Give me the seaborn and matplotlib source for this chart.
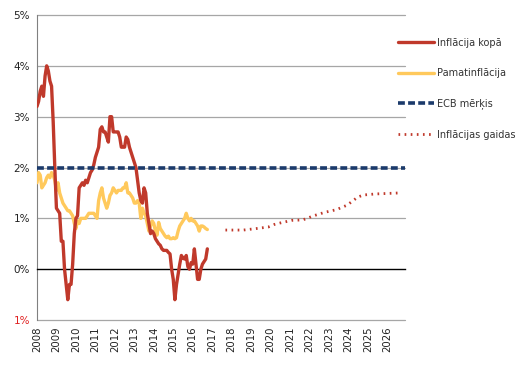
import numpy as np
import pandas as pd
import matplotlib
matplotlib.use("Agg")
import matplotlib.pyplot as plt
import matplotlib.ticker as mticker
import seaborn as sns

# monthly data, Jan 2008 .. Oct 2016 (%)
start_year = 2008
headline = [
    3.2, 3.3, 3.5, 3.6, 3.4, 3.8, 4.0, 3.9, 3.7, 3.6, 2.9, 2.0,
    1.2, 1.15, 1.1, 0.55, 0.55, 0.0, -0.3, -0.6, -0.3, -0.3, 0.1, 0.7,
    1.0, 1.05, 1.6, 1.65, 1.7, 1.65, 1.75, 1.7, 1.8, 1.9, 1.95, 2.05,
    2.2, 2.3, 2.4, 2.75, 2.8, 2.7, 2.7, 2.6, 2.5, 3.0, 3.0, 2.7,
    2.7, 2.7, 2.7, 2.6, 2.4, 2.4, 2.4, 2.6, 2.55, 2.4, 2.3, 2.2,
    2.1, 2.0, 1.75, 1.5, 1.35, 1.3, 1.6, 1.5, 1.1, 0.9, 0.7, 0.75,
    0.7, 0.6, 0.55, 0.5, 0.47, 0.4, 0.37, 0.37, 0.37, 0.33, 0.3, 0.0,
    -0.2, -0.6, -0.3, -0.1, 0.1, 0.27, 0.22, 0.2, 0.27, 0.05, 0.0, 0.13,
    0.1, 0.4, 0.1, -0.2, -0.2, 0.0, 0.1, 0.15, 0.2, 0.4,
]
core = [
    1.7, 1.9, 1.85, 1.6, 1.65, 1.7, 1.8, 1.85, 1.8, 1.9, 1.85, 1.75,
    1.55, 1.7, 1.5, 1.4, 1.3, 1.25, 1.2, 1.15, 1.15, 1.1, 1.05, 0.9,
    0.8, 0.95, 0.9, 1.0, 1.0, 1.0, 1.0, 1.05, 1.1, 1.1, 1.1, 1.1,
    1.05, 1.0, 1.35, 1.5, 1.6, 1.4, 1.3, 1.2, 1.3, 1.45, 1.5, 1.6,
    1.55, 1.5, 1.55, 1.55, 1.55, 1.6, 1.6, 1.7, 1.5, 1.5, 1.45, 1.4,
    1.3, 1.3, 1.35, 1.3, 1.0, 1.2, 1.1, 1.05, 0.9, 0.75, 0.85, 0.95,
    0.9, 0.75, 0.67, 0.92, 0.8, 0.75, 0.7, 0.65, 0.62, 0.65, 0.6, 0.6,
    0.62, 0.6, 0.62, 0.75, 0.85, 0.9, 0.95, 1.0, 1.1, 1.0, 0.95, 1.0,
    0.95, 0.95, 0.9, 0.85, 0.75, 0.85, 0.85, 0.83, 0.8, 0.78,
]
# inflation expectations (decimal year, %)
exp_years = [2017.68, 2018.6, 2019.27, 2019.88, 2020.19, 2020.5, 2021.08, 2021.66,
             2022.2, 2022.79, 2023.37, 2023.93, 2024.48, 2024.78, 2025.38, 2026.62]
exp_values = [0.77, 0.77, 0.8, 0.83, 0.88, 0.91, 0.96, 0.97,
              1.05, 1.12, 1.17, 1.26, 1.42, 1.46, 1.48, 1.5]
ecb_target = 2.0
year_ticks = list(range(2008, 2027))
y_ticks = [-1, 0, 1, 2, 3, 4, 5]

months = start_year + np.arange(len(headline)) / 12
df = pd.DataFrame({"t": months, "headline": headline, "core": core})
df_exp = pd.DataFrame({"t": exp_years, "v": exp_values})

sns.set_style("white")
plt.rcParams["font.family"] = ["DejaVu Sans"]

fig = plt.figure(figsize=(5.28, 3.70), dpi=100)
ax = fig.add_axes([0.070, 0.135, 0.697, 0.8245])

red = "#C0392B"
yellow = "#FFC95C"
navy = "#1B3A6B"

sns.lineplot(data=df, x="t", y="headline", ax=ax, color=red, linewidth=2.4,
             label="Inflācija kopā", zorder=4)
sns.lineplot(data=df, x="t", y="core", ax=ax, color=yellow, linewidth=2.4,
             label="Pamatinflācija", zorder=3)
ax.axhline(ecb_target, color=navy, linewidth=2.6, linestyle=(0, (1.9, 0.9)),
           label="ECB mērķis", zorder=5)
sns.lineplot(data=df_exp, x="t", y="v", ax=ax, color=red, linewidth=2.0,
             linestyle=(0, (0.6, 1.6)), label="Inflācijas gaidas", zorder=4)

ax.set_xlim(2008, 2026.9)
ax.set_ylim(-1, 5)
ax.set_xlabel("")
ax.set_ylabel("")

# horizontal grid
for v in y_ticks:
    if v != 0:
        ax.axhline(v, color="#A6A6A6", linewidth=0.9, zorder=1, clip_on=False)

ax.set_yticks(y_ticks)
ax.yaxis.set_major_formatter(mticker.FuncFormatter(lambda v, p: f"{abs(v):.0f}%"))
ax.tick_params(axis="y", length=3, color="#808080", labelsize=7.5, labelcolor="#222222", pad=2)
for lab, v in zip(ax.get_yticklabels(), y_ticks):
    if v < 0:
        lab.set_color("#E02020")

ax.set_xticks(year_ticks)
ax.set_xticklabels([str(y) for y in year_ticks])
ax.tick_params(axis="x", direction="out", length=4, color="black", labelsize=7.3,
               labelcolor="#222222", pad=37, labelrotation=90)

ax.spines["bottom"].set_position(("data", 0))
ax.spines["bottom"].set_color("black")
ax.spines["bottom"].set_linewidth(1.0)
ax.spines["left"].set_color("#808080")
ax.spines["right"].set_visible(False)
ax.spines["top"].set_visible(False)

ax.legend_.remove()
handles, labels = ax.get_legend_handles_labels()
fig.legend(handles, labels, loc="upper left", bbox_to_anchor=(0.738, 0.922),
           frameon=False, fontsize=7, handlelength=3.7, handletextpad=0.25,
           labelspacing=2.1, labelcolor="#333333")

fig.savefig("out.png", dpi=100)
